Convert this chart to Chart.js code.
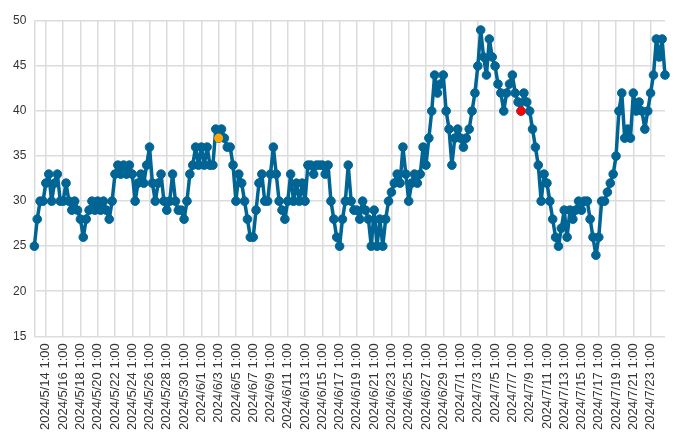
<!DOCTYPE html>
<html>
<head>
<meta charset="utf-8">
<script src="https://cdn.jsdelivr.net/npm/chart.js@4"></script>
<style>
  html, body { margin: 0; padding: 0; background: #fff; }
  #wrap { width: 700px; height: 438px; }
</style>
</head>
<body>
<div id="wrap"><canvas id="lineChart"></canvas></div>
<script>
// readings every 8 hours, starting 2024/5/12 17:00
const startTime = new Date(2024, 4, 12, 17, 0);
const stepHours = 8;

const values = [
    25, 28, 30, 30, 32, 33, 30, 32, 33, 30,
    30, 32, 30, 29, 30, 29, 28, 26, 28, 29,
    30, 29, 30, 29, 30, 29, 28, 30, 33, 34,
    33, 34, 33, 34, 33, 30, 32, 33, 32, 34,
    36, 32, 30, 32, 33, 30, 29, 30, 33, 30,
    29, 29, 28, 30, 33, 34, 36, 34, 36, 34,
    36, 34, 34, 38, 37, 38, 37, 36, 36, 34,
    30, 33, 32, 30, 28, 26, 26, 29, 32, 33,
    30, 30, 33, 36, 33, 30, 29, 28, 30, 33,
    30, 32, 30, 32, 30, 34, 34, 33, 34, 34,
    34, 33, 34, 30, 28, 26, 25, 28, 30, 34,
    30, 29, 29, 28, 30, 29, 28, 25, 29, 25,
    28, 25, 28, 30, 31, 32, 33, 32, 36, 33,
    30, 32, 33, 32, 33, 36, 34, 37, 40, 44,
    42, 43, 44, 40, 38, 34, 37, 38, 37, 36,
    37, 38, 40, 42, 45, 49, 46, 44, 48, 46,
    45, 43, 42, 40, 42, 43, 44, 42, 41, 40,
    42, 41, 40, 38, 36, 34, 30, 33, 32, 30,
    28, 26, 25, 27, 29, 26, 29, 28, 29, 30,
    29, 30, 30, 28, 26, 24, 26, 30, 30, 31,
    32, 33, 35, 40, 42, 37, 38, 37, 42, 40,
    41, 40, 38, 40, 42, 44, 48, 46, 48, 44
];

// marked points (index into values) and their colours
const markedIndex = [64, 169];
const markedColors = ['#FFA500', '#FF0000'];

// a tick label every 48 hours, first one at 2024/5/14 1:00
const firstTickIndex = 4;
const tickEvery = 6;

const labels = values.map((v, i) => {
    const d = new Date(startTime);
    d.setHours(d.getHours() + i * stepHours);
    return d.getFullYear() + '/' + (d.getMonth() + 1) + '/' + d.getDate() + ' ' + d.getHours() + ':00';
});

const markedData = values.map((v, i) => markedIndex.includes(i) ? v : null);
const markedPointColors = values.map((v, i) => {
    const k = markedIndex.indexOf(i);
    return k >= 0 ? markedColors[k] : 'transparent';
});

const lineColor = '#006594';
const gridColor = '#dcdcdc';

const ctx = document.getElementById('lineChart').getContext('2d');

new Chart(ctx, {
    type: 'line',
    data: {
        labels: labels,
        datasets: [
            {
                data: markedData,
                showLine: false,
                pointRadius: 4.5,
                pointBorderWidth: 0,
                pointBackgroundColor: markedPointColors,
                pointBorderColor: markedPointColors,
                order: 0
            },
            {
                data: values,
                borderColor: lineColor,
                borderWidth: 3.5,
                borderJoinStyle: 'round',
                borderCapStyle: 'round',
                tension: 0,
                pointRadius: 4.3,
                pointBorderWidth: 1,
                pointBackgroundColor: lineColor,
                pointBorderColor: lineColor,
                order: 1
            }
        ]
    },
    options: {
        responsive: true,
        maintainAspectRatio: false,
        animation: false,
        layout: {
            padding: { left: 5, right: 35, top: 21, bottom: 1 }
        },
        plugins: {
            legend: { display: false },
            tooltip: { enabled: false }
        },
        scales: {
            x: {
                grid: {
                    color: gridColor,
                    lineWidth: 1.5,
                    drawTicks: false
                },
                border: { display: false },
                ticks: {
                    autoSkip: false,
                    minRotation: 90,
                    maxRotation: 90,
                    padding: 7,
                    color: '#333',
                    font: { family: 'Liberation Sans', size: 13 },
                    callback: function (value, index) {
                        if (index >= firstTickIndex && (index - firstTickIndex) % tickEvery === 0) {
                            return this.getLabelForValue(value);
                        }
                        return null;
                    }
                }
            },
            y: {
                min: 15,
                max: 50,
                grid: {
                    color: gridColor,
                    lineWidth: 1.5,
                    drawTicks: false
                },
                border: { display: true, color: gridColor, width: 1.5 },
                ticks: {
                    stepSize: 5,
                    padding: 8,
                    color: '#333',
                    font: { family: 'Liberation Sans', size: 12 }
                }
            }
        }
    }
});
</script>
</body>
</html>
